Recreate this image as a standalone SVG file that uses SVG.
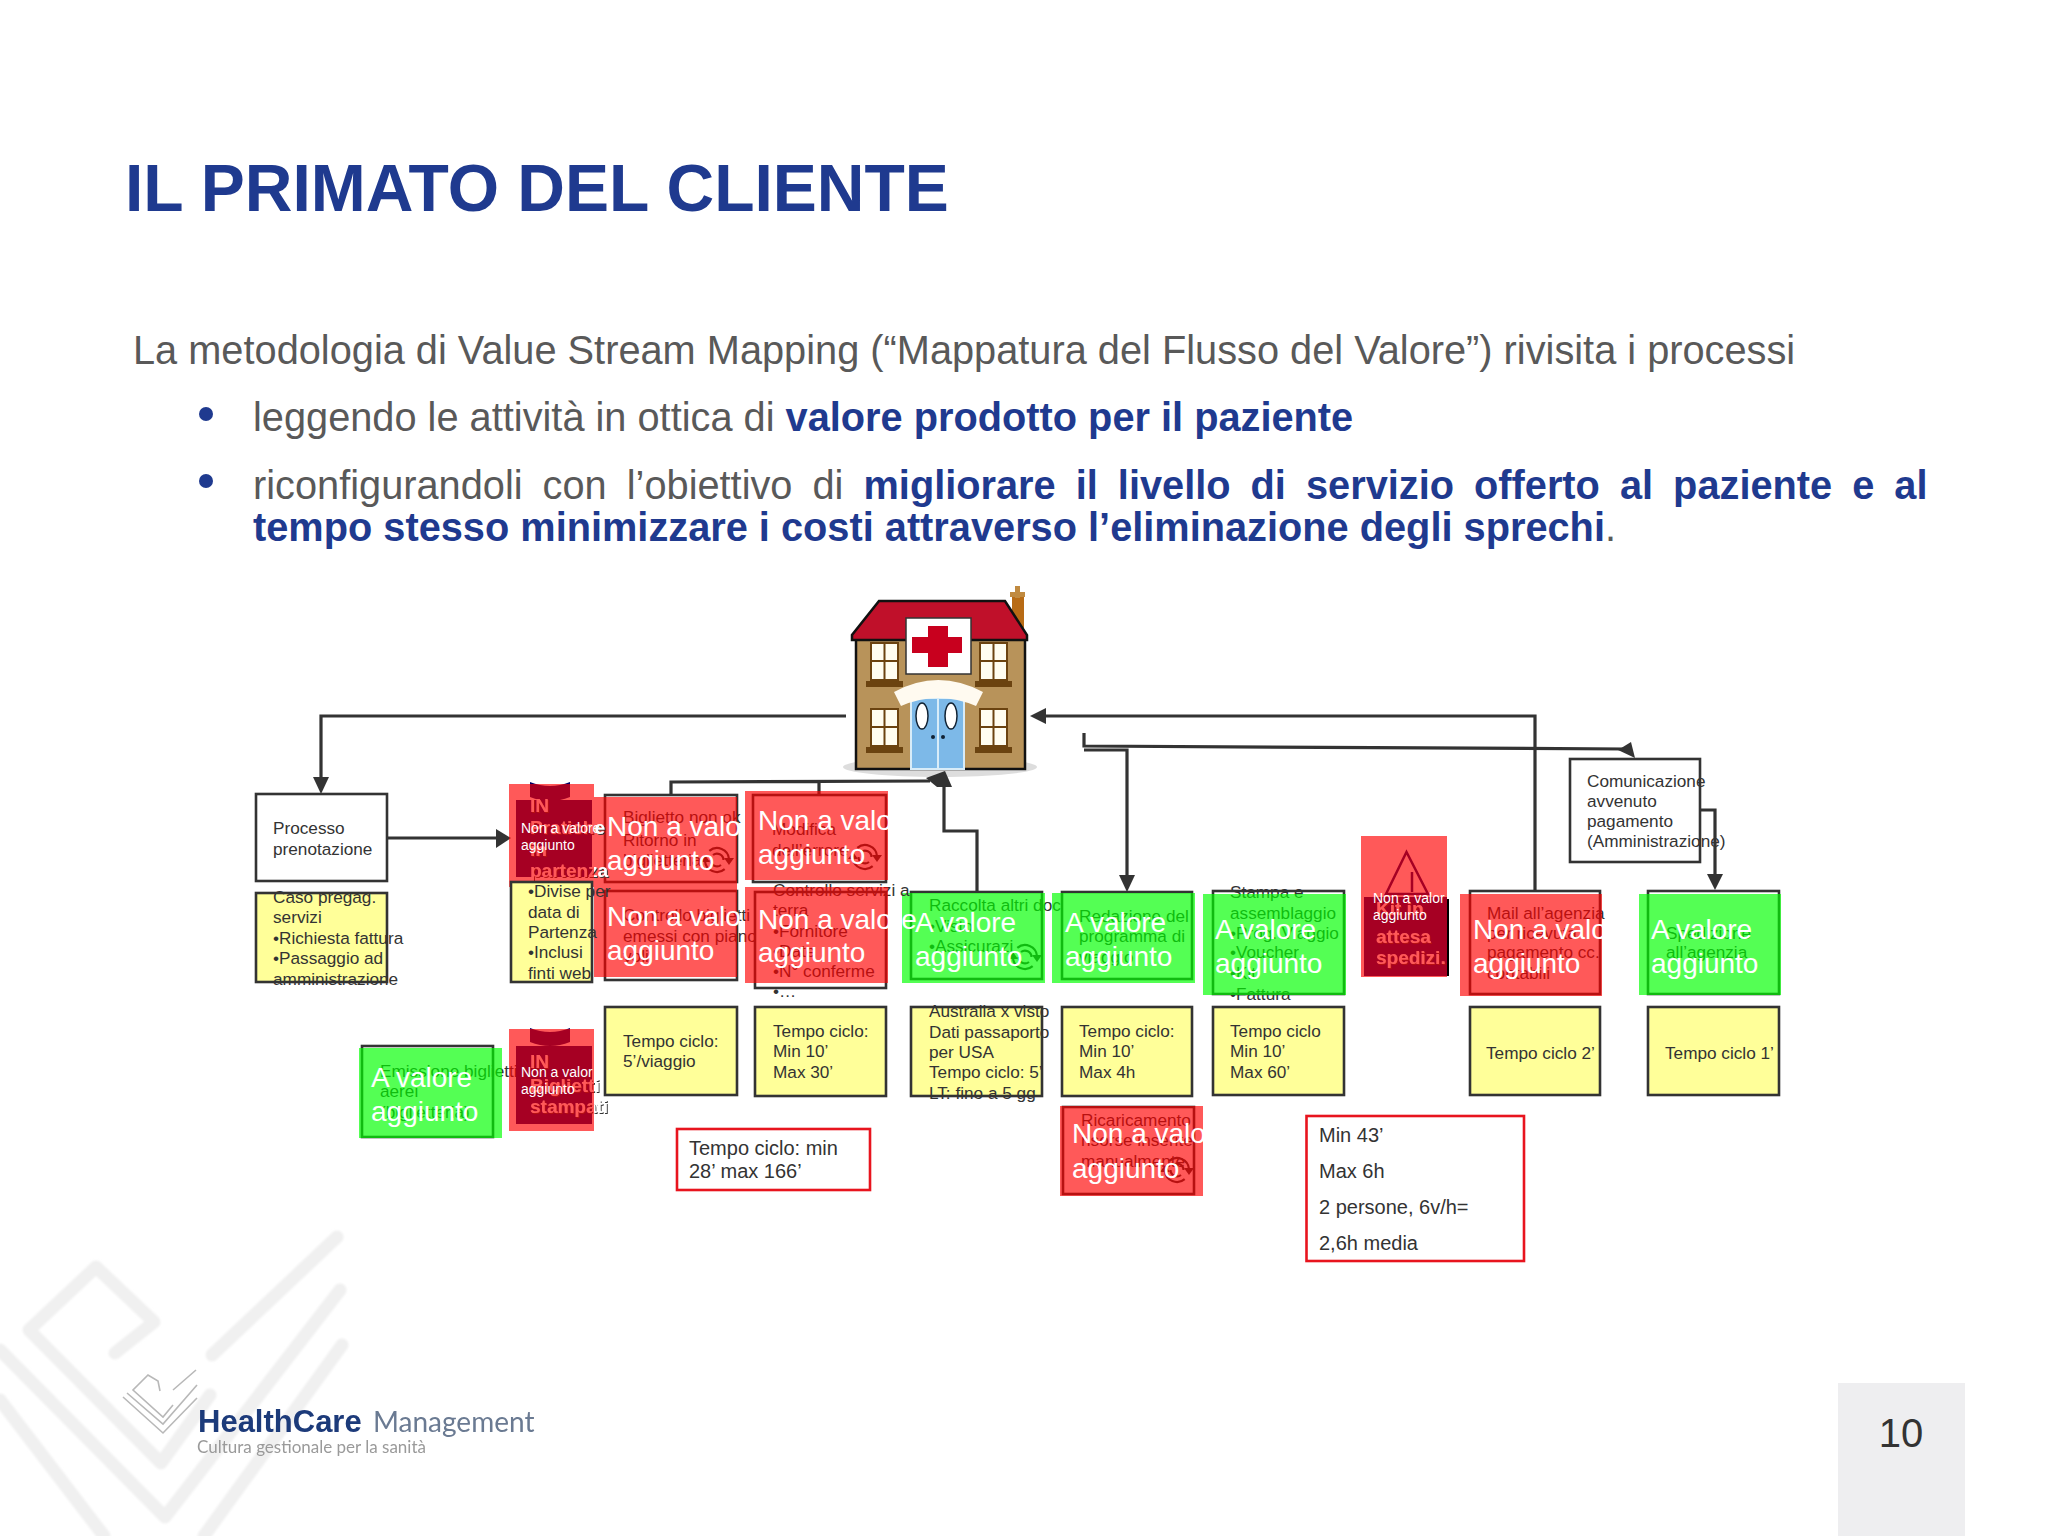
<svg xmlns="http://www.w3.org/2000/svg" width="2048" height="1536" viewBox="0 0 2048 1536">
<style>
text{font-family:"Liberation Sans",Arial,sans-serif}
.t{font-size:17.2px;fill:#333}
.big{font-size:28px;fill:#fff}
.sm{font-size:14px;fill:#fff}
.bw{font-size:19px;font-weight:bold;fill:#fff;filter:url(#sh)}
.box{stroke:#333;stroke-width:2.6}
.w{fill:#fff}
.y{fill:#ffff99}
.r{fill:#ff0000;fill-opacity:.65}
.g{fill:#00ff00;fill-opacity:.67}
.nv{fill:#000066}
.redbox{fill:#fff;stroke:#e8141e;stroke-width:2.6}
.tt{font-size:20px;fill:#333}
.c{fill:none;stroke:#333;stroke-width:3.2}
.h{fill:#333}
.wm{fill:none;stroke:#f0f0f0;stroke-width:13;stroke-linecap:round;stroke-linejoin:round}
.lg{fill:none;stroke:#b8b8b8;stroke-width:1.6}
.body{font-size:39.75px;fill:#595959}
.bb{font-weight:bold;fill:#1f3a8f}
.win{fill:#fffdf0;stroke:#6b4310;stroke-width:2}
.sill{fill:#6b4310}
</style>
<defs>
<filter id="sh" x="-10%" y="-10%" width="130%" height="130%"><feDropShadow dx="1" dy="1" stdDeviation="0.6" flood-color="#333"/></filter>
<filter id="bl"><feGaussianBlur stdDeviation="0.7"/></filter>
<filter id="bl2"><feGaussianBlur stdDeviation="1.2"/></filter>
<g id="icon"><path fill="none" stroke="#333" stroke-width="2.2" d="M-7.700-9.200A12 12 0 0 1 12-1M7.700 9.200A12 12 0 0 1-12 1M-4-5A6.500 6.500 0 0 1 6.500 0M4 5A6.500 6.500 0 0 1-6.500 0"/><path fill="#333" d="M7-2H17L12 5ZM-7 2H-17L-12-5Z"/></g>
</defs>

<g id="watermark" filter="url(#bl2)">
<path class="wm" d="M115 1353 154 1322 96 1267 29 1330 161 1463 210 1395M212 1355 337 1237"/>
<path class="wm" d="M0 1350 165 1517 340 1290"/>
<path class="wm" d="M0 1400 104 1536M204 1536 342 1345"/>
</g>

<g id="title"><text x="125" y="211" font-size="66" font-weight="bold" fill="#1f3a8f">IL PRIMATO DEL CLIENTE</text></g>
<g id="bodytext">
<text class="body" x="133" y="364">La metodologia di Value Stream Mapping (“Mappatura del Flusso del Valore”) rivisita i processi</text>
<circle cx="206" cy="414" r="7" fill="#1f3a8f"/>
<text class="body" x="253" y="431">leggendo le attività in ottica di <tspan class="bb">valore prodotto per il paziente</tspan></text>
<circle cx="206" cy="481" r="7" fill="#1f3a8f"/>
<text class="body" x="253" y="499" word-spacing="9">riconfigurandoli con l’obiettivo di <tspan class="bb">migliorare il livello di servizio offerto al paziente e al</tspan></text>
<text class="body" x="253" y="541"><tspan class="bb">tempo stesso minimizzare i costi attraverso l’eliminazione degli sprechi</tspan>.</text>
</g>

<g id="hospital">
<ellipse cx="940" cy="767" rx="97" ry="10" fill="#dddddd"/>
<rect x="1012" y="596" width="12" height="40" fill="#b86b15"/><rect x="1015" y="586" width="5" height="12" fill="#c08a40"/><rect x="1010" y="592" width="15" height="5" fill="#c08a40"/>
<rect x="856" y="638" width="169" height="131" fill="#b8935a" stroke="#111" stroke-width="2.5"/>
<path d="M879 601H1005L1027 635V640H852V635Z" fill="#c0102a" stroke="#111" stroke-width="2.5"/>
<rect x="906" y="618" width="65" height="56" fill="#fff" stroke="#333" stroke-width="1.5"/>
<path d="M928 626H948V637H962V653H948V667H928V653H912V637H928Z" fill="#c8001e"/>
<path class="win" d="M871 643h27v37h-27zM884.500 643v37M871 661h27M980 643h27v37h-27zM993.500 643v37M980 661h27M871 709h27v37h-27zM884.500 709v37M871 727h27M980 709h27v37h-27zM993.500 709v37M980 727h27"/>
<path class="sill" d="M866 681h37v6h-37zM975 681h37v6h-37zM866 747h37v6h-37zM975 747h37v6h-37z"/>
<rect x="911" y="698" width="53" height="71" fill="#7db9e8" stroke="#d8ecf8" stroke-width="2"/>
<path d="M938 698V769" stroke="#d8ecf8" stroke-width="2"/>
<ellipse cx="922" cy="716" rx="6" ry="13" fill="#fff" stroke="#123" stroke-width="1.500"/><ellipse cx="951" cy="716" rx="6" ry="13" fill="#fff" stroke="#123" stroke-width="1.500"/>
<circle cx="933" cy="737" r="2" fill="#123"/><circle cx="943" cy="737" r="2" fill="#123"/>
<path d="M894 692Q938 668 983 692L976 706Q938 690 901 706Z" fill="#fffaf0"/>
</g>

<g id="connectors">
<path class="c" d="M846 716H321V778"/><path class="h" d="M313 777H329L321 794Z"/>
<path class="c" d="M387 838H496"/><path class="h" d="M496 829V848L511 838Z"/>
<path class="c" d="M671 795V782L930 781M819 795V781"/>
<path class="c" d="M977 892V831H944V785"/><path class="h" d="M945 771 952 787 937 787 926 778Z"/>
<path class="c" d="M1535 890V716H1045"/><path class="h" d="M1046 708V724L1030 716Z"/>
<path class="c" d="M1084 733V746L1625 749M1084 750H1127V876"/><path class="h" d="M1119 875H1135L1127 892Z"/><path class="h" d="M1618 750 1631 742 1635 758Z"/>
<path class="c" d="M1700 810H1715V875"/><path class="h" d="M1707 874H1723L1715 890Z"/>
</g>

<g id="n-prenotazione"><rect class="box w" x="256" y="794" width="131" height="87"/><text class="t" x="273"><tspan x="273" y="834">Processo</tspan><tspan x="273" y="855">prenotazione</tspan></text></g>
<g id="n-caso"><rect class="box y" x="256" y="893" width="131" height="89"/><text class="t"><tspan x="273" y="903">Caso pregag.</tspan><tspan x="273" y="923">servizi</tspan><tspan x="273" y="944">•Richiesta fattura</tspan><tspan x="273" y="964">•Passaggio ad</tspan><tspan x="273" y="985">amministrazione</tspan></text></g>

<g id="n-biglietto">
<rect class="box w" x="605" y="795" width="132" height="87"/>
<text class="t"><tspan x="623" y="823">Biglietto non ok</tspan><tspan x="623" y="846">Ritorno in</tspan><tspan x="623" y="866">biglietteria</tspan></text>
<use href="#icon" x="717" y="860"/>
<rect class="r" x="594" y="797" width="143" height="87"/>
<text class="big"><tspan x="607" y="836">Non a valo</tspan><tspan x="607" y="870">aggiunto</tspan></text>
</g>
<g id="n-controllo">
<rect class="box w" x="605" y="891" width="132" height="89"/>
<text class="t"><tspan x="623" y="921">Controllo biglietti :</tspan><tspan x="623" y="942">emessi con piano</tspan><tspan x="623" y="962">voli</tspan></text>
<rect class="r" x="594" y="884" width="143" height="93"/>
<text class="big"><tspan x="607" y="926">Non a valo</tspan><tspan x="607" y="960">aggiunto</tspan></text>
</g>
<g id="n-pratiche-in">
<path class="nv" d="M530 782Q550 790 570 782V797Q550 805 530 797Z"/>
<rect class="nv" x="516" y="800" width="76" height="77"/>
<text class="bw"><tspan x="530" y="812">IN</tspan><tspan x="530" y="834">Pratiche</tspan><tspan x="530" y="856">in</tspan><tspan x="530" y="877">partenza</tspan></text>
<rect class="r" x="509" y="784" width="85" height="103"/>
<text class="sm"><tspan x="521" y="833">Non a valore</tspan><tspan x="521" y="850">aggiunto</tspan></text>
</g>
<g id="n-divise"><rect class="box y" x="511" y="882" width="81" height="100"/><text class="t"><tspan x="528" y="897">•Divise per</tspan><tspan x="528" y="918">data di</tspan><tspan x="528" y="938">Partenza</tspan><tspan x="528" y="958">•Inclusi</tspan><tspan x="528" y="979">finti web</tspan></text></g>
<g id="n-tempo-5"><rect class="box y" x="605" y="1007" width="132" height="88"/><text class="t"><tspan x="623" y="1047">Tempo ciclo:</tspan><tspan x="623" y="1067">5’/viaggio</tspan></text></g>

<g id="n-modifica">
<rect class="box w" x="753" y="795" width="133" height="87"/>
<text class="t"><tspan x="772" y="835">Modifica</tspan><tspan x="772" y="856">dell’errore</tspan></text>
<use href="#icon" x="865" y="857"/>
<rect class="r" x="745" y="791" width="143" height="89"/>
<text class="big"><tspan x="758" y="830">Non a valo</tspan><tspan x="758" y="864">aggiunto</tspan></text>
</g>
<g id="n-tempo-30"><rect class="box y" x="755" y="1007" width="131" height="89"/><text class="t"><tspan x="773" y="1037">Tempo ciclo:</tspan><tspan x="773" y="1057">Min 10’</tspan><tspan x="773" y="1078">Max 30’</tspan></text></g>

<g id="n-raccolta">
<rect class="box w" x="911" y="892" width="131" height="87"/>
<text class="t"><tspan x="929" y="911">Raccolta altri doc</tspan><tspan x="929" y="932">•Visto</tspan><tspan x="929" y="952">•Assicurazi</tspan></text>
<use href="#icon" x="1025" y="957"/>
<rect class="g" x="902" y="893" width="143" height="90"/>
<text class="big"><tspan x="915" y="932">A valore</tspan><tspan x="915" y="966">aggiunto</tspan></text>
</g>
<g id="n-servizi">
<rect class="box w" x="755" y="892" width="131" height="96"/>
<text class="t"><tspan x="773" y="896">Controllo servizi a</tspan><tspan x="773" y="916">terra</tspan><tspan x="773" y="937">•Fornitore</tspan><tspan x="773" y="957">•Date</tspan><tspan x="773" y="977">•N° conferme</tspan><tspan x="773" y="997">•…</tspan></text>
<rect class="r" x="745" y="887" width="143" height="96"/>
<text class="big"><tspan x="758" y="929">Non a valore</tspan><tspan x="758" y="962">aggiunto</tspan></text>
</g>
<g id="n-australia"><rect class="box y" x="911" y="1007" width="131" height="89"/><text class="t"><tspan x="929" y="1017">Australia x visto</tspan><tspan x="929" y="1038">Dati passaporto</tspan><tspan x="929" y="1058">per USA</tspan><tspan x="929" y="1078">Tempo ciclo: 5’</tspan><tspan x="929" y="1099">LT: fino a 5 gg</tspan></text></g>

<g id="n-redazione">
<rect class="box w" x="1062" y="892" width="130" height="87"/>
<text class="t"><tspan x="1079" y="922">Redazione del</tspan><tspan x="1079" y="942">programma di</tspan><tspan x="1079" y="963">viaggio</tspan></text>
<rect class="g" x="1052" y="893" width="143" height="90"/>
<text class="big"><tspan x="1065" y="932">A valore</tspan><tspan x="1065" y="966">aggiunto</tspan></text>
</g>
<g id="n-tempo-4h"><rect class="box y" x="1062" y="1007" width="130" height="89"/><text class="t"><tspan x="1079" y="1037">Tempo ciclo:</tspan><tspan x="1079" y="1057">Min 10’</tspan><tspan x="1079" y="1078">Max 4h</tspan></text></g>
<g id="n-ricaricamento">
<rect class="box w" x="1063" y="1107" width="131" height="87"/>
<text class="t"><tspan x="1081" y="1126">Ricaricamento</tspan><tspan x="1081" y="1146">risorse inserite</tspan><tspan x="1081" y="1167">manualmente</tspan></text>
<use href="#icon" x="1177" y="1170"/>
<rect class="r" x="1060" y="1106" width="143" height="90"/>
<text class="big"><tspan x="1072" y="1143">Non a valo</tspan><tspan x="1072" y="1178">aggiunto</tspan></text>
</g>

<g id="n-stampa">
<rect class="box w" x="1213" y="891" width="131" height="103"/>
<text class="t"><tspan x="1230" y="898">Stampa e</tspan><tspan x="1230" y="919">assemblaggio</tspan><tspan x="1230" y="939">•Prog. Viaggio</tspan><tspan x="1230" y="958">•Voucher</tspan><tspan x="1230" y="979">•Kit</tspan><tspan x="1230" y="1000">•Fattura</tspan></text>
<rect class="g" x="1203" y="894" width="143" height="101"/>
<text class="big"><tspan x="1215" y="939">A valore</tspan><tspan x="1215" y="973">aggiunto</tspan></text>
</g>
<g id="n-tempo-60"><rect class="box y" x="1213" y="1007" width="131" height="88"/><text class="t"><tspan x="1230" y="1037">Tempo ciclo</tspan><tspan x="1230" y="1057">Min 10’</tspan><tspan x="1230" y="1078">Max 60’</tspan></text></g>

<g id="n-kit">
<path d="M1406.500 852 1428 894H1386Z" fill="none" stroke="#000066" stroke-width="2.500"/><path d="M1412 872V892" stroke="#000066" stroke-width="2.500"/>
<rect x="1366" y="899" width="83" height="77" fill="#000"/>
<rect class="nv" x="1364" y="897" width="83" height="79"/>
<text class="bw"><tspan x="1376" y="915">Kit in</tspan><tspan x="1376" y="943">attesa</tspan><tspan x="1376" y="964">spedizi.</tspan></text>
<rect class="r" x="1361" y="836" width="86" height="141"/>
<text class="sm"><tspan x="1373" y="903">Non a valor</tspan><tspan x="1373" y="920">aggiunto</tspan></text>
</g>

<g id="n-mail">
<rect class="box w" x="1470" y="891" width="130" height="103"/>
<text class="t"><tspan x="1487" y="919">Mail all’agenzia</tspan><tspan x="1487" y="939">per ricevuta</tspan><tspan x="1487" y="958">pagamento cc.</tspan><tspan x="1487" y="979">contabili</tspan></text>
<rect class="r" x="1460" y="894" width="142" height="102"/>
<text class="big"><tspan x="1473" y="939">Non a valo</tspan><tspan x="1473" y="973">aggiunto</tspan></text>
</g>
<g id="n-tempo-2"><rect class="box y" x="1470" y="1007" width="130" height="88"/><text class="t" x="1486" y="1059">Tempo ciclo 2’</text></g>

<g id="n-comunicazione"><rect class="box w" x="1570" y="759" width="130" height="103"/><text class="t"><tspan x="1587" y="787">Comunicazione</tspan><tspan x="1587" y="807">avvenuto</tspan><tspan x="1587" y="827">pagamento</tspan><tspan x="1587" y="847">(Amministrazione)</tspan></text></g>
<g id="n-spedizione">
<rect class="box w" x="1648" y="891" width="131" height="103"/>
<text class="t"><tspan x="1666" y="939">Spedizione</tspan><tspan x="1666" y="958">all’agenzia</tspan></text>
<rect class="g" x="1639" y="894" width="142" height="101"/>
<text class="big"><tspan x="1651" y="939">A valore</tspan><tspan x="1651" y="973">aggiunto</tspan></text>
</g>
<g id="n-tempo-1"><rect class="box y" x="1648" y="1007" width="131" height="88"/><text class="t" x="1665" y="1059">Tempo ciclo 1’</text></g>

<g id="n-emissione">
<rect class="box w" x="362" y="1046" width="131" height="91"/>
<text class="t"><tspan x="380" y="1077">Emissione biglietti</tspan><tspan x="380" y="1097">aerei</tspan><tspan x="380" y="1118">(biglietteria)</tspan></text>
<rect class="g" x="359" y="1048" width="143" height="90"/>
<text class="big"><tspan x="371" y="1087">A valore</tspan><tspan x="371" y="1121">aggiunto</tspan></text>
</g>
<g id="n-biglietti-in">
<path class="nv" d="M530 1028Q550 1036 570 1028V1042Q550 1050 530 1042Z"/>
<rect class="nv" x="516" y="1046" width="76" height="78"/>
<text class="bw"><tspan x="530" y="1068">IN</tspan><tspan x="530" y="1092">Biglietti</tspan><tspan x="530" y="1113">stampati</tspan></text>
<rect class="r" x="509" y="1029" width="85" height="102"/>
<text class="sm"><tspan x="521" y="1077">Non a valor</tspan><tspan x="521" y="1094">aggiunto</tspan></text>
</g>

<g id="n-totale-1"><rect class="redbox" x="677" y="1129" width="193" height="61"/><text class="tt"><tspan x="689" y="1155">Tempo ciclo: min</tspan><tspan x="689" y="1178">28’ max 166’</tspan></text></g>
<g id="n-totale-2"><rect class="redbox" x="1306.500" y="1116" width="217.500" height="145"/><text class="tt"><tspan x="1319" y="1142">Min 43’</tspan><tspan x="1319" y="1178">Max 6h</tspan><tspan x="1319" y="1214">2 persone, 6v/h=</tspan><tspan x="1319" y="1250">2,6h media</tspan></text></g>

<g id="logo">
<path class="lg" d="M160 1391 158 1381 148 1375 133 1390 163 1417 173 1405M173 1390 196 1370M127 1393 163 1424 197 1385M123 1397 163 1433 197 1398"/>
<g filter="url(#bl)">
<text x="198" y="1432" font-size="31" font-weight="bold" fill="#1f3a7a">HealthCare</text>
<text x="373" y="1432" font-size="28" fill="#6a7a92" style="font-family:Lato,sans-serif">Management</text>
<text x="197" y="1453" font-size="17" fill="#9a9a9a" style="font-family:Lato,sans-serif">Cultura gestionale per la sanità</text>
</g>
</g>

<g id="page"><rect x="1838" y="1383" width="127" height="153" fill="#eeeef0"/><text x="1901" y="1447" font-size="40" fill="#333" text-anchor="middle">10</text></g>
</svg>
